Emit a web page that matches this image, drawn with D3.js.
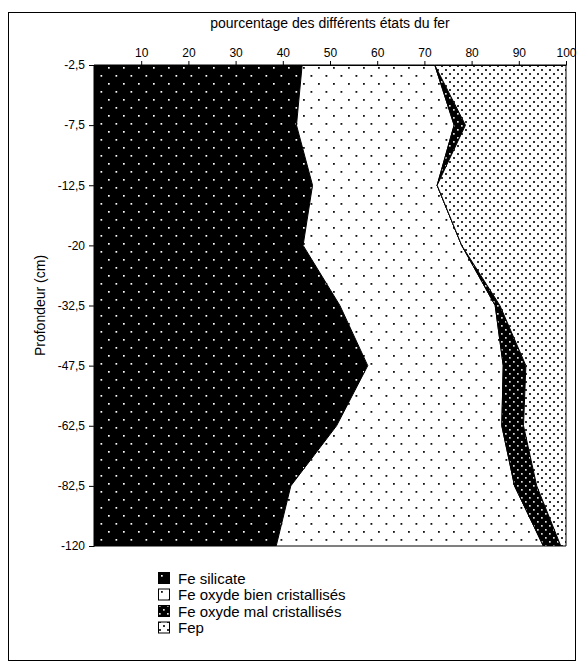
<!DOCTYPE html>
<html>
<head>
<meta charset="utf-8">
<script src="https://cdn.jsdelivr.net/npm/d3@7"></script>
<style>
    body { margin: 0; background: #fff; }
    svg { font-family: "Liberation Sans", Arial, sans-serif; }
    .axis path, .axis line { stroke: #000; }
    .axis text { font-size: 12px; fill: #000; }
</style>
</head>
<body>
<div id="chart"></div>
<script>
// depth labels (cm), top to bottom
const depths = ["-2,5", "-7,5", "-12,5", "-20", "-32,5", "-47,5", "-62,5", "-82,5", "-120"]

// percentage of each iron state at each depth
const feSilicate = [44.1, 42.9, 46.3, 44.3, 52.1, 58.0, 51.4, 41.7, 38.6]
const feBien     = [28.1, 33.4, 26.4, 33.6, 32.9, 28.7, 35.0, 47.4, 56.6]
const feMal      = [0,    2.4,  0,    0,    1.0,  4.8,  4.6,  4.7,  3.7]
const fep        = [27.8, 21.3, 27.3, 22.1, 14.0, 8.5,  9.0,  6.2,  1.1]

const seriesNames = ["Fe silicate", "Fe oxyde bien cristallisés", "Fe oxyde mal cristallisés", "Fep"]
const xTicks = [10, 20, 30, 40, 50, 60, 70, 80, 90, 100]

const W = 583, H = 668
const svg = d3.select("#chart").append("svg")
    .attr("width", W)
    .attr("height", H)

// patterns
const defs = svg.append("defs")
function dotPattern(id, w, h, bg, dot, pts, r) {
    let p = defs.append("pattern")
        .attr("id", id)
        .attr("patternUnits", "userSpaceOnUse")
        .attr("width", w)
        .attr("height", h)
    p.append("rect").attr("width", w).attr("height", h).attr("fill", bg)
    pts.forEach(pt => {
        p.append("rect")
            .attr("x", pt[0]).attr("y", pt[1])
            .attr("width", r).attr("height", r)
            .attr("fill", dot)
    })
}
dotPattern("pSil", 15, 16, "#000", "#fff", [[3, 3], [10.5, 11]], 1.7)
dotPattern("pBien", 15, 16, "#fff", "#111", [[3, 3], [10.5, 11]], 1.8)
dotPattern("pMal", 8, 8, "#000", "#ddd", [[1, 1], [5, 5]], 1.7)
dotPattern("pFep", 8, 8, "#fff", "#333", [[1, 1], [5, 5]], 2)
const fills = ["url(#pSil)", "url(#pBien)", "url(#pMal)", "url(#pFep)"]

// outer frame
svg.append("rect")
    .attr("x", 8.5).attr("y", 12.5)
    .attr("width", 567).attr("height", 648)
    .attr("fill", "none")
    .attr("stroke", "#000")

const plot = {left: 94, right: 566, top: 65, bottom: 546}

const xScale = d3.scaleLinear()
    .domain([0, 100])
    .range([plot.left, plot.right])

const yScale = d3.scalePoint()
    .domain(depths)
    .range([plot.top, plot.bottom])

// rows for the stack
const rows = depths.map((d, i) => ({
    depth: d,
    s0: feSilicate[i], s1: feBien[i], s2: feMal[i], s3: fep[i]
}))
const stack = d3.stack().keys(["s0", "s1", "s2", "s3"])(rows)

const area = d3.area()
    .y(d => yScale(d.data.depth))
    .x0(d => xScale(d[0]))
    .x1(d => xScale(d[1]))

svg.selectAll(".layer")
    .data(stack)
    .join("path")
    .attr("class", "layer")
    .attr("d", area)
    .attr("fill", (d, i) => fills[i])
    .attr("stroke", "#000")
    .attr("stroke-width", 1)

// axes
svg.append("g")
    .attr("class", "axis")
    .attr("transform", `translate(0, ${plot.top})`)
    .call(d3.axisTop(xScale).tickValues(xTicks).tickSize(4).tickSizeOuter(0).tickPadding(4))

svg.append("g")
    .attr("class", "axis")
    .attr("transform", `translate(${plot.left}, 0)`)
    .call(d3.axisLeft(yScale).tickSize(5).tickSizeOuter(0).tickPadding(4))

// axis titles
svg.append("text")
    .attr("x", (plot.left + plot.right) / 2)
    .attr("y", 28)
    .attr("text-anchor", "middle")
    .style("font-size", "14px")
    .text("pourcentage des différents états du fer")

svg.append("text")
    .attr("transform", `translate(45, ${(plot.top + plot.bottom) / 2}) rotate(-90)`)
    .attr("text-anchor", "middle")
    .style("font-size", "14px")
    .text("Profondeur (cm)")

// legend
const leg = svg.append("g").attr("transform", "translate(158, 572)")
seriesNames.forEach((name, i) => {
    leg.append("rect")
        .attr("x", 0.5).attr("y", i * 16.5 + 0.5)
        .attr("width", 11).attr("height", 11)
        .attr("fill", fills[i])
        .attr("stroke", "#000")
    leg.append("text")
        .attr("x", 20)
        .attr("y", i * 16.5 + 11.5)
        .style("font-size", "15px")
        .text(name)
})
</script>
</body>
</html>
